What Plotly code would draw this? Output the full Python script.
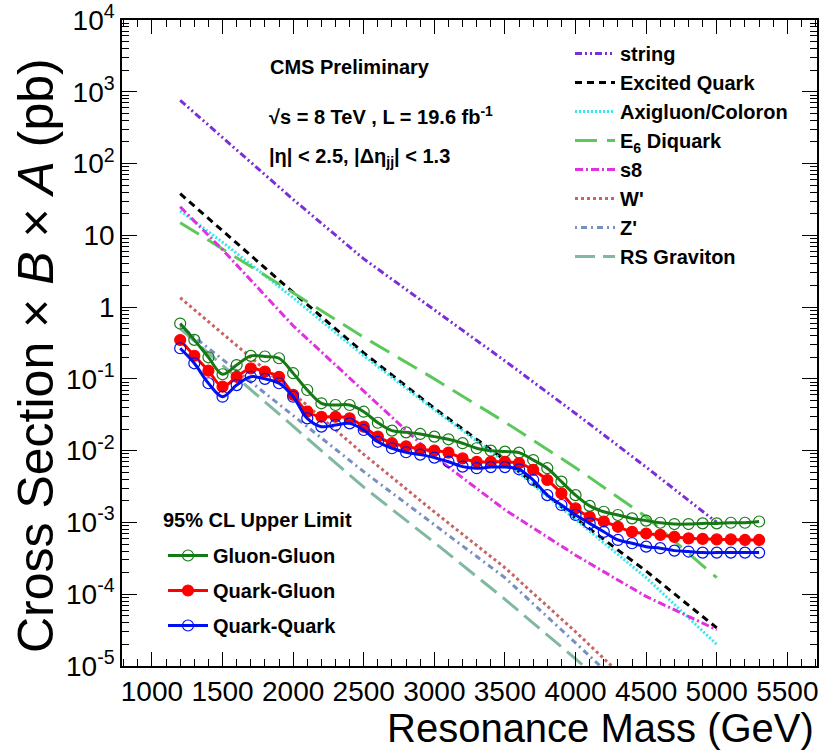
import plotly.graph_objects as go

# ---------------- data ----------------
mass_th = [1200, 1500, 2000, 2500, 3000, 3500, 4000, 4500, 5000]
xs_string = [760, 230, 31.6, 4.7, 0.91, 0.178, 0.033, 0.0059, 0.001]
xs_excited = [38, 11.5, 1.6, 0.23, 0.039, 0.0074, 0.00114, 0.00021, 0.000034]
xs_axigluon = [22, 8.0, 1.35, 0.21, 0.037, 0.007, 0.0011, 0.00017, 0.00002]
xs_e6 = [15, 6.5, 1.58, 0.38, 0.10, 0.025, 0.0058, 0.0012, 0.00017]
xs_s8 = [25, 6.3, 0.55, 0.068, 0.0083, 0.0015, 0.00035, 0.000093, 0.000032]

mass_th2 = [1200, 1500, 2000, 2500, 3000, 3500, 4000, 4500]
xs_wprime = [1.35, 0.43, 0.063, 0.0089, 0.0014, 0.000234, 0.00003, 0.0000035]
xs_zprime = [0.55, 0.186, 0.031, 0.0051, 0.00093, 0.00017, 0.000021, 0.0000025]
xs_rsg = [0.5, 0.155, 0.0214, 0.0031, 0.000525, 0.000085, 0.0000126, 0.0000018]

mass_lim = list(range(1200, 5400, 100))
lim_gg = [0.59, 0.35, 0.20, 0.116, 0.156, 0.209, 0.205, 0.194, 0.12, 0.070,
          0.0457, 0.0433, 0.0433, 0.0349, 0.0245, 0.019, 0.0180, 0.0171, 0.0157, 0.0144,
          0.0127, 0.0108, 0.0100, 0.0097, 0.0094, 0.0074, 0.0057, 0.0037, 0.0024, 0.0017,
          0.00141, 0.00127, 0.00114, 0.00106, 0.00099, 0.00095, 0.00095, 0.00097, 0.00097, 0.00099,
          0.00099, 0.00103]
lim_qg = [0.348, 0.21, 0.13, 0.078, 0.107, 0.14, 0.126, 0.107, 0.060, 0.035,
          0.0297, 0.0297, 0.0282, 0.0216, 0.0157, 0.0127, 0.0115, 0.0105, 0.0100, 0.0094,
          0.0078, 0.0070, 0.0070, 0.0070, 0.0067, 0.0054, 0.0039, 0.00255, 0.00157, 0.0012,
          0.00103, 0.00087, 0.00074, 0.00070, 0.00067, 0.00063, 0.00060, 0.00059, 0.00058, 0.00058,
          0.00057, 0.00057]
lim_qq = [0.267, 0.165, 0.087, 0.0565, 0.082, 0.107, 0.100, 0.087, 0.0565, 0.0282,
          0.0216, 0.0228, 0.024, 0.0194, 0.0133, 0.0108, 0.0095, 0.0088, 0.0080, 0.0070,
          0.0060, 0.0057, 0.0059, 0.0059, 0.0055, 0.0039, 0.0024, 0.00175, 0.00127, 0.00097,
          0.00074, 0.00057, 0.000513, 0.00046, 0.000438, 0.000405, 0.000393, 0.00038, 0.00038, 0.00038,
          0.00038, 0.00038]

y_tickvals = [1e-5, 1e-4, 1e-3, 1e-2, 1e-1, 1, 10, 1e2, 1e3, 1e4]
y_ticktext = ["10<sup>-5</sup>", "10<sup>-4</sup>", "10<sup>-3</sup>", "10<sup>-2</sup>",
              "10<sup>-1</sup>", "1", "10", "10<sup>2</sup>", "10<sup>3</sup>", "10<sup>4</sup>"]
y_minor = [m * 10.0 ** e for e in range(-5, 4) for m in range(2, 10)]
x_tickvals = [1000, 1500, 2000, 2500, 3000, 3500, 4000, 4500, 5000, 5500]

FONT = "Liberation Sans"
L, R, T, B = 122, 13, 20, 84
W, H = 830, 750
PW, PH = W - L - R, H - T - B


def px(xp):
    return (xp - L) / PW


def py(yp):
    return (H - B - yp) / PH


fig = go.Figure()

theory = [
    ("string", mass_th, xs_string, "#7B2FD8", "7px,3px,2px,3px,2px,3px"),
    ("Excited Quark", mass_th, xs_excited, "#000000", "7px,5px"),
    ("Axigluon/Coloron", mass_th, xs_axigluon, "#30E8F0", "2px,2px"),
    ("E<sub>6</sub> Diquark", mass_th, xs_e6, "#5CC85C", "22px,10px"),
    ("s8", mass_th, xs_s8, "#E030E0", "8px,3px,2px,3px"),
    ("W'", mass_th2, xs_wprime, "#C86464", "3px,3px"),
    ("Z'", mass_th2, xs_zprime, "#7890C0", "2px,4px,6px,4px"),
    ("RS Graviton", mass_th2, xs_rsg, "#80B8A0", "20px,8px"),
]
for name, xx, yy, col, dash in theory:
    fig.add_trace(go.Scatter(x=xx, y=yy, mode="lines", name=name,
                             line=dict(color=col, width=3, dash=dash),
                             legend="legend"))

limits = [
    ("Gluon-Gluon", lim_gg, "#157A15", "circle-open"),
    ("Quark-Gluon", lim_qg, "#FF0000", "circle"),
    ("Quark-Quark", lim_qq, "#0010F0", "circle-open"),
]
for name, yy, col, sym in limits:
    fig.add_trace(go.Scatter(x=mass_lim, y=yy, mode="lines+markers", name=name,
                             line=dict(color=col, width=3, shape="spline", smoothing=1),
                             marker=dict(symbol=sym, size=11, color=col, line=dict(color=col, width=1.2)),
                             legend="legend2", legendgroup=name))

fig.update_layout(
    width=W, height=H,
    margin=dict(l=L, r=R, t=T, b=B, autoexpand=False),
    paper_bgcolor="white", plot_bgcolor="white",
    font=dict(family=FONT, color="black"),
    legend=dict(x=px(570), y=py(34), xanchor="left", yanchor="top",
                bgcolor="rgba(0,0,0,0)", itemwidth=40,
                font=dict(size=20, family=FONT, weight="bold")),
    legend2=dict(x=px(163), y=py(536), xanchor="left", yanchor="top",
                 bgcolor="rgba(0,0,0,0)", itemwidth=40, tracegroupgap=6,
                 font=dict(size=20, family=FONT, weight="bold")),
    showlegend=True,
)

fig.update_xaxes(range=[788, 5710], tickvals=x_tickvals, ticks="inside", ticklen=14,
                 tickwidth=1.2, tickcolor="black", showline=True, linecolor="black", linewidth=1.5,
                 mirror="allticks", showgrid=False, zeroline=False, automargin=False,
                 tickfont=dict(size=28, family=FONT), ticklabeloverflow="allow",
                 minor=dict(dtick=100, ticks="inside", ticklen=7, tickwidth=1, tickcolor="black",
                            showgrid=False))
fig.update_yaxes(type="log", range=[-5, 4], tickvals=y_tickvals, ticktext=y_ticktext,
                 ticks="inside", ticklen=15, tickwidth=1.2, tickcolor="black",
                 showline=True, linecolor="black", linewidth=1.5, mirror="allticks",
                 showgrid=False, zeroline=False, automargin=False,
                 tickfont=dict(size=28, family=FONT), ticklabeloverflow="allow",
                 minor=dict(tickvals=y_minor, ticks="inside", ticklen=7, tickwidth=1,
                            tickcolor="black", showgrid=False))

ann = [
    dict(text="Cross Section × <i>B</i> × <i>A</i> (pb)", xref="paper", yref="paper",
         x=px(36), y=py(356), textangle=-90, xanchor="center", yanchor="middle",
         showarrow=False, font=dict(size=50, family=FONT)),
    dict(text="Resonance Mass (GeV)", xref="paper", yref="paper", x=px(816), y=py(728),
         xanchor="right", yanchor="middle", showarrow=False,
         font=dict(size=40, family=FONT)),
    dict(text="CMS Preliminary", xref="paper", yref="paper", x=px(350),
         y=py(67), xanchor="center", yanchor="middle", showarrow=False,
         font=dict(size=20, family=FONT, weight="bold")),
    dict(text="√s = 8 TeV , L = 19.6 fb<sup>-1</sup>", xref="paper", yref="paper",
         x=px(267), y=py(115), xanchor="left", yanchor="middle",
         showarrow=False, font=dict(size=20, family=FONT, weight="bold")),
    dict(text="|η| < 2.5, |Δη<sub>jj</sub>| < 1.3", xref="paper", yref="paper",
         x=px(267), y=py(157), xanchor="left", yanchor="middle",
         showarrow=False, font=dict(size=20, family=FONT, weight="bold")),
    dict(text="95% CL Upper Limit", xref="paper", yref="paper",
         x=px(161), y=py(520), xanchor="left", yanchor="middle",
         showarrow=False, font=dict(size=20, family=FONT, weight="bold")),
]
fig.update_layout(annotations=ann)

fig.write_html("out.html")
